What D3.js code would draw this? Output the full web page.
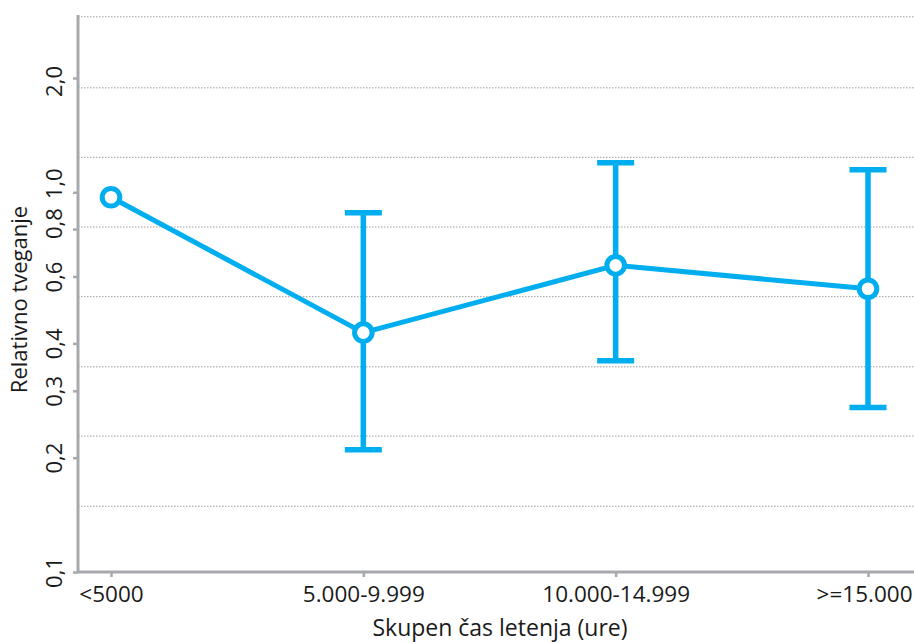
<!DOCTYPE html>
<html>
<head>
<meta charset="utf-8">
<script src="https://cdnjs.cloudflare.com/ajax/libs/d3/7.8.5/d3.min.js"></script>
<style>
    body { margin: 0; background: #fff; }
    text { font-family: "Open Sans", sans-serif; fill: #1a1a1a; }
</style>
</head>
<body>
<svg id="chart" width="914" height="642"></svg>
<script>
// data
var categories = ["<5000", "5.000-9.999", "10.000-14.999", ">=15.000"];
var risk = [0.97, 0.427, 0.642, 0.557];
var lower = [null, 0.21, 0.36, 0.271];
var upper = [null, 0.883, 1.196, 1.146];
var yTicks = [0.1, 0.2, 0.3, 0.4, 0.6, 0.8, 1.0, 2.0];
var yTickLabels = ["0,1", "0,2", "0,3", "0,4", "0,6", "0,8", "1,0", "2,0"];
var gridValues = [0.149, 0.228, 0.347, 0.531, 0.81, 1.236, 1.884, 2.898];

var blue = "#00aeef";
var grey = "#a7a9ac";
// crowded labels near 1,0 are nudged up a little, like the original
var labelNudge = {"1,0": -9, "0,8": -6, "2,0": 3};

var svg = d3.select("#chart");
// plot box (note: "top" is taken by window.top)
var mLeft = 78, mRight = 914, mTop = 15, mBottom = 572;

var x = d3.scalePoint().domain(categories).range([111, 868]);
var y = d3.scaleLog().domain([0.1, 2.93]).range([mBottom, mTop]);

// dotted grid
svg.append("g").selectAll("line")
    .data(gridValues)
    .join("line")
    .attr("x1", mLeft).attr("x2", mRight)
    .attr("y1", d => y(d)).attr("y2", d => y(d))
    .attr("stroke", "#9d9d9d")
    .attr("stroke-width", 1)
    .attr("stroke-dasharray", "1.5,1.5");

// y axis
var yAxis = svg.append("g")
    .attr("transform", "translate(" + mLeft + ",0)")
    .call(d3.axisLeft(y).tickValues(yTicks).tickSize(5).tickFormat(""));
yAxis.select(".domain").remove();
yAxis.selectAll(".tick line").attr("stroke", grey).attr("stroke-width", 2.5);
yAxis.selectAll(".tick")
    .append("text")
    .attr("transform", "rotate(-90)")
    .attr("x", (d, i) => -(labelNudge[yTickLabels[i]] || 0))
    .attr("y", -16)
    .attr("text-anchor", "middle")
    .style("font-size", "22px")
    .text((d, i) => yTickLabels[i]);

// x axis
var xAxis = svg.append("g")
    .attr("transform", "translate(0," + mBottom + ")")
    .call(d3.axisBottom(x).tickSize(5).tickFormat(""));
xAxis.select(".domain").remove();
xAxis.selectAll(".tick line").attr("stroke", grey).attr("stroke-width", 2.5);
xAxis.selectAll(".tick")
    .append("text")
    .attr("y", 30)
    .attr("text-anchor", "middle")
    .style("font-size", "22.5px")
    .text(d => d);

// keep the last label inside the picture
xAxis.selectAll(".tick text").each(function(d) {
    var w = this.getComputedTextLength();
    var over = x(d) + w / 2 - (mRight - 2);
    if (over > 0) d3.select(this).attr("x", -over);
});

// axis lines
svg.append("path")
    .attr("d", "M" + mLeft + "," + mTop + "V" + mBottom + "H" + mRight)
    .attr("fill", "none")
    .attr("stroke", grey)
    .attr("stroke-width", 3);

// titles
svg.append("text")
    .attr("transform", "translate(27," + ((mTop + mBottom) / 2 + 6) + ") rotate(-90)")
    .attr("text-anchor", "middle")
    .style("font-size", "22px")
    .text("Relativno tveganje");

svg.append("text")
    .attr("x", 500).attr("y", 636)
    .attr("text-anchor", "middle")
    .style("font-size", "23px")
    .text("Skupen čas letenja (ure)");

// error bars
var bars = categories.map((c, i) => ({c: c, lo: lower[i], hi: upper[i]}))
    .filter(d => d.lo != null);
var eb = svg.append("g").attr("stroke", blue).attr("stroke-width", 5.5);
eb.selectAll(".stem").data(bars).join("line")
    .attr("class", "stem")
    .attr("x1", d => x(d.c)).attr("x2", d => x(d.c))
    .attr("y1", d => y(d.lo)).attr("y2", d => y(d.hi));
eb.selectAll(".capLo").data(bars).join("line")
    .attr("class", "capLo")
    .attr("x1", d => x(d.c) - 18.5).attr("x2", d => x(d.c) + 18.5)
    .attr("y1", d => y(d.lo)).attr("y2", d => y(d.lo));
eb.selectAll(".capHi").data(bars).join("line")
    .attr("class", "capHi")
    .attr("x1", d => x(d.c) - 18.5).attr("x2", d => x(d.c) + 18.5)
    .attr("y1", d => y(d.hi)).attr("y2", d => y(d.hi));

// line + markers
var pts = categories.map((c, i) => [x(c), y(risk[i])]);
svg.append("path")
    .attr("d", d3.line()(pts))
    .attr("fill", "none")
    .attr("stroke", blue)
    .attr("stroke-width", 5);

svg.append("g").selectAll("circle")
    .data(pts)
    .join("circle")
    .attr("cx", d => d[0]).attr("cy", d => d[1])
    .attr("r", 8.8)
    .attr("fill", "#fff")
    .attr("stroke", blue)
    .attr("stroke-width", 5);
</script>
</body>
</html>
